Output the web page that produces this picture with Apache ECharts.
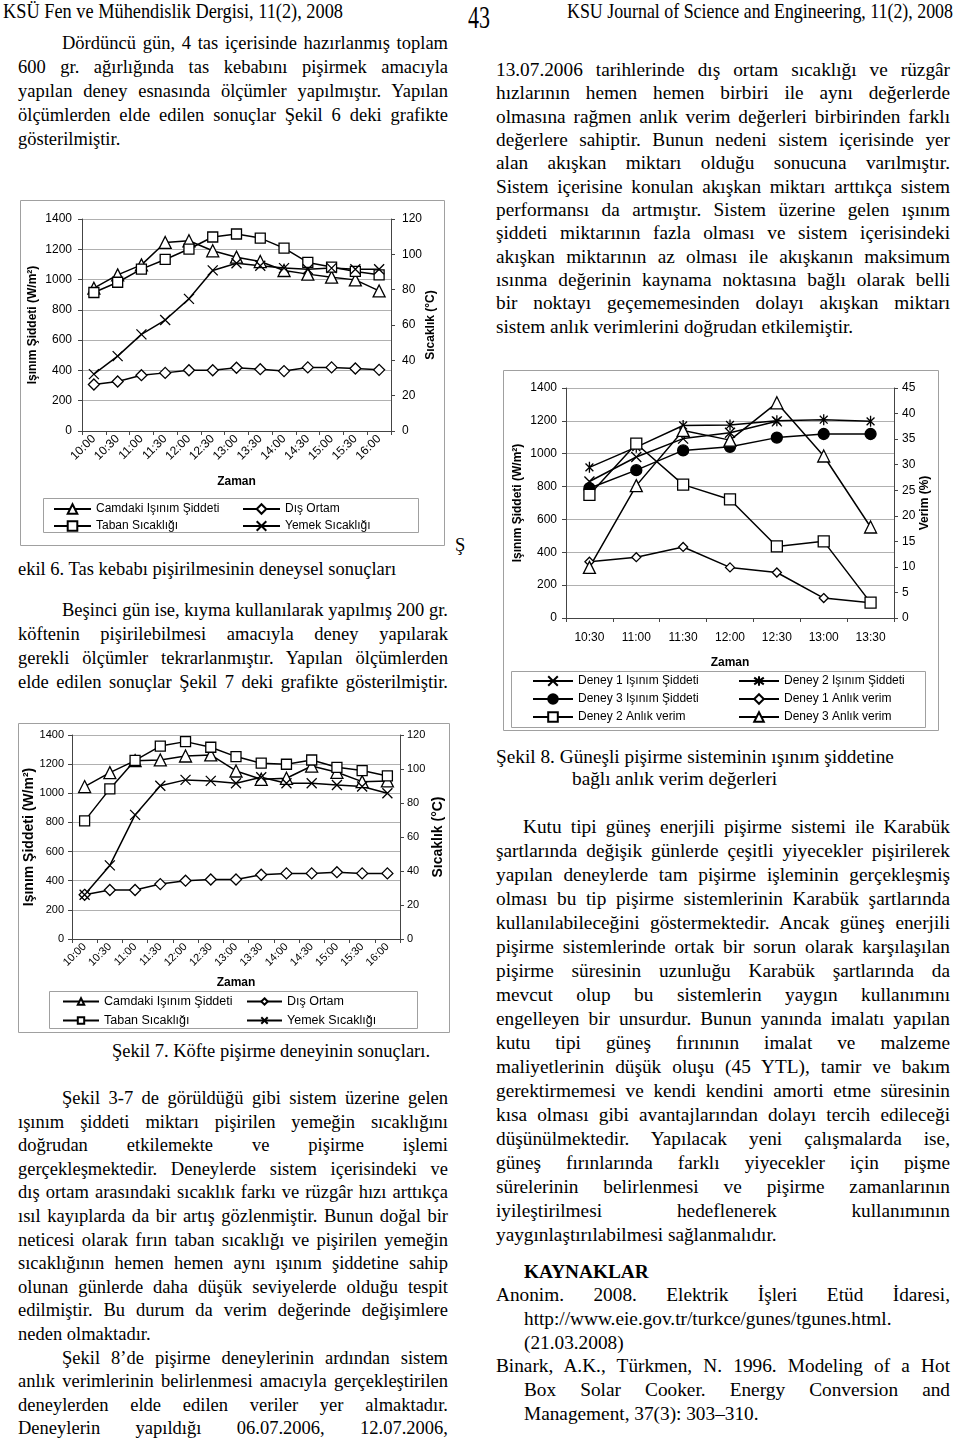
<!DOCTYPE html>
<html><head><meta charset="utf-8">
<script src="https://cdn.jsdelivr.net/npm/echarts/dist/echarts.min.js"></script>
<style>
html,body{margin:0;padding:0;background:#fff;}
#page{position:relative;width:960px;height:1438px;overflow:hidden;background:#fff;}
.ln{position:absolute;height:24px;line-height:24px;font-family:'Liberation Serif','Times New Roman',serif;color:#000;white-space:nowrap;}
.hd{position:absolute;font-family:'Liberation Serif','Times New Roman',serif;color:#000;white-space:nowrap;transform-origin:0 50%;}
.chart{position:absolute;}
</style></head><body><div id="page">
<div id="c6" class="chart" style="left:20px;top:200px;width:425px;height:346px"></div>
<div id="c7" class="chart" style="left:18px;top:723px;width:432px;height:310px"></div>
<div id="c8" class="chart" style="left:503px;top:370px;width:436px;height:361px"></div>
</div>
<script>
// ---------- DATA ----------
const timeLabels = ['10:00','10:30','11:00','11:30','12:00','12:30','13:00','13:30','14:00','14:30','15:00','15:30','16:00'];
// Şekil 6
const fig6Camdaki = [943,1031,1097,1245,1256,1190,1148,1119,1060,1036,1016,998,925];
const fig6Taban   = [78.4,84.2,91.6,97.1,103.0,109.8,111.5,109.2,103.5,95.4,92.8,90.3,88.4];
const fig6DisOrtam= [26.3,28.0,31.6,32.9,34.4,34.4,35.8,35.0,33.9,36.0,36.0,35.4,34.6];
const fig6Yemek   = [32.2,42.4,54.7,62.8,74.8,90.9,95.0,93.5,92.2,91.6,92.2,91.6,91.6];
// Şekil 7
const fig7Camdaki = [1046,1142,1224,1229,1256,1263,1153,1096,1103,1187,1144,1080,1085];
const fig7Taban   = [69.5,88.3,105.1,113.5,116.1,112.8,107.3,103.4,102.8,105.3,101.0,99.1,95.9];
const fig7DisOrtam= [26.0,28.8,28.8,32.3,34.3,35.0,35.0,37.8,38.6,38.6,39.3,38.6,38.6];
const fig7Yemek   = [26.0,43.3,73.0,90.1,93.6,93.0,91.6,95.1,91.6,91.6,90.6,89.7,85.7];
// Şekil 8
const fig8Labels  = ['10:30','11:00','11:30','12:00','12:30','13:00','13:30'];
const fig8D1Isinim = [831,980,1092,1128,1197,null,null];
const fig8D2Isinim = [917,1040,1172,1175,1200,1207,1197];
const fig8D3Isinim = [790,900,1020,1042,1098,1120,1120];
const fig8D1Verim  = [11.0,11.9,13.9,9.9,8.9,3.9,3.0];
const fig8D2Verim  = [24.1,34.1,26.1,23.2,14.0,15.0,3.0];
const fig8D3Verim  = [9.9,25.9,36.7,34.8,42.1,31.7,17.8];
// axis ticks
const leftTicks6 = {min:0,max:1400,interval:200};
const rightTicks6 = {min:0,max:120,interval:20};
const rightTicks8 = {min:0,max:45,interval:5};

// ---------- TEXT ----------
const headerItems = [
  [3,11,340,'KSÜ Fen ve Mühendislik Dergisi, 11(2), 2008',22],
  [468,17,22,'43',31],
  [567,11,386,'KSU Journal of Science and Engineering, 11(2), 2008',22]
];
const L=18, LR=448, R=496, RR=950, FL=18.5, FR=19.3;
const p3 = i => 1098 + i*23.6;
const textLines = [
  [62,43,LR,'Dördüncü gün, 4 tas içerisinde hazırlanmış toplam',1,0,FL],
  [L,67,LR,'600 gr. ağırlığında tas kebabını pişirmek amacıyla',1,0,FL],
  [L,91,LR,'yapılan deney esnasında ölçümler yapılmıştır. Yapılan',1,0,FL],
  [L,115,LR,'ölçümlerden elde edilen sonuçlar Şekil 6 deki grafikte',1,0,FL],
  [L,139,0,'gösterilmiştir.',0,0,FL],
  [455,545,0,'Ş',0,0,FL],
  [L,569,0,'ekil 6. Tas kebabı pişirilmesinin deneysel sonuçları',0,0,FL],
  [62,610,LR,'Beşinci gün ise, kıyma kullanılarak yapılmış 200 gr.',1,0,FL],
  [L,634,LR,'köftenin pişirilebilmesi amacıyla deney yapılarak',1,0,FL],
  [L,658,LR,'gerekli ölçümler tekrarlanmıştır. Yapılan ölçümlerden',1,0,FL],
  [L,682,LR,'elde edilen sonuçlar Şekil 7 deki grafikte gösterilmiştir.',1,0,FL],
  [112,1051,0,'Şekil 7. Köfte pişirme deneyinin sonuçları.',0,0,FL],
  [62,p3(0),LR,'Şekil 3-7 de görüldüğü gibi sistem üzerine gelen',1,0,FL],
  [L,p3(1),LR,'ışınım şiddeti miktarı pişirilen yemeğin sıcaklığını',1,0,FL],
  [L,p3(2),LR,'doğrudan etkilemekte ve pişirme işlemi',1,0,FL],
  [L,p3(3),LR,'gerçekleşmektedir. Deneylerde sistem içerisindeki ve',1,0,FL],
  [L,p3(4),LR,'dış ortam arasındaki sıcaklık farkı ve rüzgâr hızı arttıkça',1,0,FL],
  [L,p3(5),LR,'ısıl kayıplarda da bir artış gözlenmiştir. Bunun doğal bir',1,0,FL],
  [L,p3(6),LR,'neticesi olarak fırın taban sıcaklığı ve pişirilen yemeğin',1,0,FL],
  [L,p3(7),LR,'sıcaklığının hemen hemen aynı ışınım şiddetine sahip',1,0,FL],
  [L,p3(8),LR,'olunan günlerde daha düşük seviyelerde olduğu tespit',1,0,FL],
  [L,p3(9),LR,'edilmiştir. Bu durum da verim değerinde değişimlere',1,0,FL],
  [L,p3(10),0,'neden olmaktadır.',0,0,FL],
  [62,p3(11),LR,'Şekil 8\u2019de pişirme deneylerinin ardından sistem',1,0,FL],
  [L,p3(12),LR,'anlık verimlerinin belirlenmesi amacıyla gerçekleştirilen',1,0,FL],
  [L,p3(13),LR,'deneylerden elde edilen veriler yer almaktadır.',1,0,FL],
  [L,p3(14),LR,'Deneylerin yapıldığı 06.07.2006, 12.07.2006,',1,0,FL],
  [R,70,RR,'13.07.2006 tarihlerinde dış ortam sıcaklığı ve rüzgâr',1,0,FR],
  [R,93,RR,'hızlarının hemen hemen birbiri ile aynı değerlerde',1,0,FR],
  [R,117,RR,'olmasına rağmen anlık verim değerleri birbirinden farklı',1,0,FR],
  [R,140,RR,'değerlere sahiptir. Bunun nedeni sistem içerisinde yer',1,0,FR],
  [R,163,RR,'alan akışkan miktarı olduğu sonucuna varılmıştır.',1,0,FR],
  [R,187,RR,'Sistem içerisine konulan akışkan miktarı arttıkça sistem',1,0,FR],
  [R,210,RR,'performansı da artmıştır. Sistem üzerine gelen ışınım',1,0,FR],
  [R,233,RR,'şiddeti miktarının fazla olması ve sistem içerisindeki',1,0,FR],
  [R,257,RR,'akışkan miktarının az olması ile akışkanın maksimum',1,0,FR],
  [R,280,RR,'ısınma değerinin kaynama noktasına bağlı olarak belli',1,0,FR],
  [R,303,RR,'bir noktayı geçememesinden dolayı akışkan miktarı',1,0,FR],
  [R,327,0,'sistem anlık verimlerini doğrudan etkilemiştir.',0,0,FR],
  [R,757,0,'Şekil 8. Güneşli pişirme sisteminin ışınım şiddetine',0,0,FR],
  [572,779,0,'bağlı anlık verim değerleri',0,0,FR],
  [523,827,RR,'Kutu tipi güneş enerjili pişirme sistemi ile Karabük',1,0,FR],
  [R,851,RR,'şartlarında değişik günlerde çeşitli yiyecekler pişirilerek',1,0,FR],
  [R,875,RR,'yapılan deneylerde tam pişirme işleminin gerçekleşmiş',1,0,FR],
  [R,899,RR,'olması bu tip pişirme sistemlerinin Karabük şartlarında',1,0,FR],
  [R,923,RR,'kullanılabileceğini göstermektedir. Ancak güneş enerjili',1,0,FR],
  [R,947,RR,'pişirme sistemlerinde ortak bir sorun olarak karşılaşılan',1,0,FR],
  [R,971,RR,'pişirme süresinin uzunluğu Karabük şartlarında da',1,0,FR],
  [R,995,RR,'mevcut olup bu sistemlerin yaygın kullanımını',1,0,FR],
  [R,1019,RR,'engelleyen bir unsurdur. Bunun yanında imalatı yapılan',1,0,FR],
  [R,1043,RR,'kutu tipi güneş fırınının imalat ve malzeme',1,0,FR],
  [R,1067,RR,'maliyetlerinin düşük oluşu (45 YTL), tamir ve bakım',1,0,FR],
  [R,1091,RR,'gerektirmemesi ve kendi kendini amorti etme süresinin',1,0,FR],
  [R,1115,RR,'kısa olması gibi avantajlarından dolayı tercih edileceği',1,0,FR],
  [R,1139,RR,'düşünülmektedir. Yapılacak yeni çalışmalarda ise,',1,0,FR],
  [R,1163,RR,'güneş fırınlarında farklı yiyecekler için pişme',1,0,FR],
  [R,1187,RR,'sürelerinin belirlenmesi ve pişirme zamanlarının',1,0,FR],
  [R,1211,RR,'iyileştirilmesi hedeflenerek kullanımının',1,0,FR],
  [R,1235,0,'yaygınlaştırılabilmesi sağlanmalıdır.',0,0,FR],
  [524,1272,0,'KAYNAKLAR',0,1,FR],
  [R,1295,RR,'Anonim. 2008. Elektrik İşleri Etüd İdaresi,',1,0,FR],
  [524,1319,0,'http://www.eie.gov.tr/turkce/gunes/tgunes.html.',0,0,FR],
  [524,1343,0,'(21.03.2008)',0,0,FR],
  [R,1366,RR,'Binark, A.K., Türkmen, N. 1996. Modeling of a Hot',1,0,FR],
  [524,1390,RR,'Box Solar Cooker. Energy Conversion and',1,0,FR],
  [524,1414,0,'Management, 37(3): 303\u2013310.',0,0,FR]
];

const page = document.getElementById('page');
headerItems.forEach(([x,y,w,t,fs])=>{
  const d=document.createElement('div'); d.className='hd';
  d.style.left=x+'px'; d.style.fontSize=fs+'px'; d.style.lineHeight=fs+'px';
  d.style.top=(y-fs/2)+'px'; d.textContent=t; page.appendChild(d);
  const nw=d.getBoundingClientRect().width; d.style.transform='scaleX('+(w/nw)+')';
});
textLines.forEach(([x,y,r,t,j,b,fs])=>{
  const d=document.createElement('div'); d.className='ln';
  d.style.left=x+'px'; d.style.top=(y-12)+'px'; d.style.fontSize=fs+'px';
  if(b) d.style.fontWeight='bold';
  d.textContent=t; page.appendChild(d);
  if(j){ const w=d.getBoundingClientRect().width; const n=(t.match(/ /g)||[]).length;
    if(n>0) d.style.wordSpacing=(((r-x)-w)/n)+'px'; }
});

// ---------- CHARTS ----------
const FONT="'Liberation Sans', Arial, Helvetica, sans-serif";
const AX='#444', GRID='#b0b0b0', FRAME='#a0a0a0';
const SYM_X='path://M0,0L10,10M10,0L0,10';
const SYM_AST='path://M0,0L10,10M10,0L0,10M5,-2L5,12';
const plain = v => String(v);

function ser(name,data,yIdx,symbol,size,filled){
  return {name,type:'line',data,yAxisIndex:yIdx,symbol,symbolSize:size,symbolKeepAspect:true,
    lineStyle:{color:'#000',width:1.5},
    itemStyle:{color:filled?'#000':'#fff',borderColor:'#000',borderWidth:1.3},
    emphasis:{disabled:true},animation:false};
}
function xAx(cats,fs,rotate,margin,gap){
  return {type:'category',data:cats,boundaryGap:true,
    axisLine:{show:true,lineStyle:{color:AX,width:1}},
    axisTick:{show:true,interval:0,alignWithLabel:false,length:4,lineStyle:{color:AX}},
    axisLabel:{interval:0,rotate:rotate,fontSize:fs,margin:margin,color:'#000',fontFamily:FONT,hideOverlap:false},
    splitLine:{show:false},
    name:'Zaman',nameLocation:'middle',nameGap:gap,nameMoveOverlap:false,
    nameTextStyle:{color:'#000',fontWeight:'bold',fontSize:12,fontFamily:FONT}};
}
function yAx(t,pos,fs,margin,name,gap,nfs,grid){
  return {type:'value',min:t.min,max:t.max,interval:t.interval,position:pos,
    axisLine:{show:true,lineStyle:{color:AX,width:1}},
    axisTick:{show:true,length:4,lineStyle:{color:AX}},
    axisLabel:{fontSize:fs,margin:margin,color:'#000',fontFamily:FONT,formatter:plain},
    splitLine:{show:grid,lineStyle:{color:GRID,width:1}},
    name:name,nameLocation:'middle',nameRotate:90,nameGap:gap,nameMoveOverlap:false,
    nameTextStyle:{color:'#000',fontWeight:'bold',fontSize:nfs,fontFamily:FONT}};
}
function lg(names,left,top,gap,iw,ih,fs){
  return {data:names,orient:'vertical',left:left,top:top,itemGap:gap,itemWidth:iw,itemHeight:ih,
    padding:0,selectedMode:false,textStyle:{color:'#000',fontSize:fs,fontFamily:FONT}};
}
function rect(x,y,w,h){
  return {type:'rect',silent:true,z:0,shape:{x:x,y:y,width:w,height:h},
    style:{fill:'transparent',stroke:FRAME,lineWidth:1}};
}

// Şekil 6
const c6=echarts.init(document.getElementById('c6'),null,{renderer:'canvas'});
c6.setOption({
  animation:false,
  grid:{left:62,top:19,width:309,height:212,outerBoundsMode:'none'},
  xAxis:xAx(timeLabels,12,45,6,45),
  yAxis:[yAx(leftTicks6,'left',12,10,'Işınım Şiddeti (W/m²)',43,12,true),
         yAx(rightTicks6,'right',12,11,'Sıcaklık (°C)',34,12,false)],
  legend:[lg(['Camdaki Işınım Şiddeti','Taban Sıcaklığı'],33,303,5,37,12,12),
          lg(['Dış Ortam','Yemek Sıcaklığı'],222,303,5,37,12,12)],
  graphic:[rect(0.5,0.5,424,345),rect(23.5,298.5,375,34)],
  series:[ser('Camdaki Işınım Şiddeti',fig6Camdaki,0,'triangle',12,false),
          ser('Taban Sıcaklığı',fig6Taban,1,'rect',10,false),
          ser('Dış Ortam',fig6DisOrtam,1,'diamond',11,false),
          ser('Yemek Sıcaklığı',fig6Yemek,1,SYM_X,10,false)]
});

// Şekil 7
const c7=echarts.init(document.getElementById('c7'),null,{renderer:'canvas'});
c7.setOption({
  animation:false,
  grid:{left:54,top:12,width:328,height:204,outerBoundsMode:'none'},
  xAxis:xAx(timeLabels,11,45,6,38),
  yAxis:[yAx(leftTicks6,'left',11,8,'Işınım Şiddeti (W/m²)',36,14,true),
         yAx(rightTicks6,'right',11,7,'Sıcaklık (°C)',31,14,false)],
  legend:[lg(['Camdaki Işınım Şiddeti','Taban Sıcaklığı'],44,272,6,36,8,12.5),
          lg(['Dış Ortam','Yemek Sıcaklığı'],228,272,6,35,8,12.5)],
  graphic:[rect(0.5,0.5,431,309),rect(31.5,268.5,368,37)],
  series:[ser('Camdaki Işınım Şiddeti',fig7Camdaki,0,'triangle',12,false),
          ser('Taban Sıcaklığı',fig7Taban,1,'rect',10,false),
          ser('Dış Ortam',fig7DisOrtam,1,'diamond',11,false),
          ser('Yemek Sıcaklığı',fig7Yemek,1,SYM_X,10,false)]
});

// Şekil 8
const c8=echarts.init(document.getElementById('c8'),null,{renderer:'canvas'});
c8.setOption({
  animation:false,
  grid:{left:63,top:18,width:328,height:230,outerBoundsMode:'none'},
  xAxis:xAx(fig8Labels,12,0,14,39),
  yAxis:[yAx(leftTicks6,'left',12,9,'Işınım Şiddeti (W/m²)',42,12,true),
         yAx(rightTicks8,'right',12,8,'Verim (%)',25,12,false)],
  legend:[lg(['Deney 1 Işınım Şiddeti','Deney 3 Işınım Şiddeti','Deney 2 Anlık verim'],29,305,6,40,12,12),
          lg(['Deney 2 Işınım Şiddeti','Deney 1 Anlık verim','Deney 3 Anlık verim'],235,305,6,40,12,12)],
  graphic:[rect(0.5,0.5,435,360),rect(8.5,301.5,414,56)],
  series:[ser('Deney 1 Işınım Şiddeti',fig8D1Isinim,0,SYM_X,10,false),
          ser('Deney 2 Işınım Şiddeti',fig8D2Isinim,0,SYM_AST,11,false),
          ser('Deney 3 Işınım Şiddeti',fig8D3Isinim,0,'circle',11,true),
          ser('Deney 1 Anlık verim',fig8D1Verim,1,'diamond',9,false),
          ser('Deney 2 Anlık verim',fig8D2Verim,1,'rect',11,false),
          ser('Deney 3 Anlık verim',fig8D3Verim,1,'triangle',12,false)]
});
</script>
</body></html>
